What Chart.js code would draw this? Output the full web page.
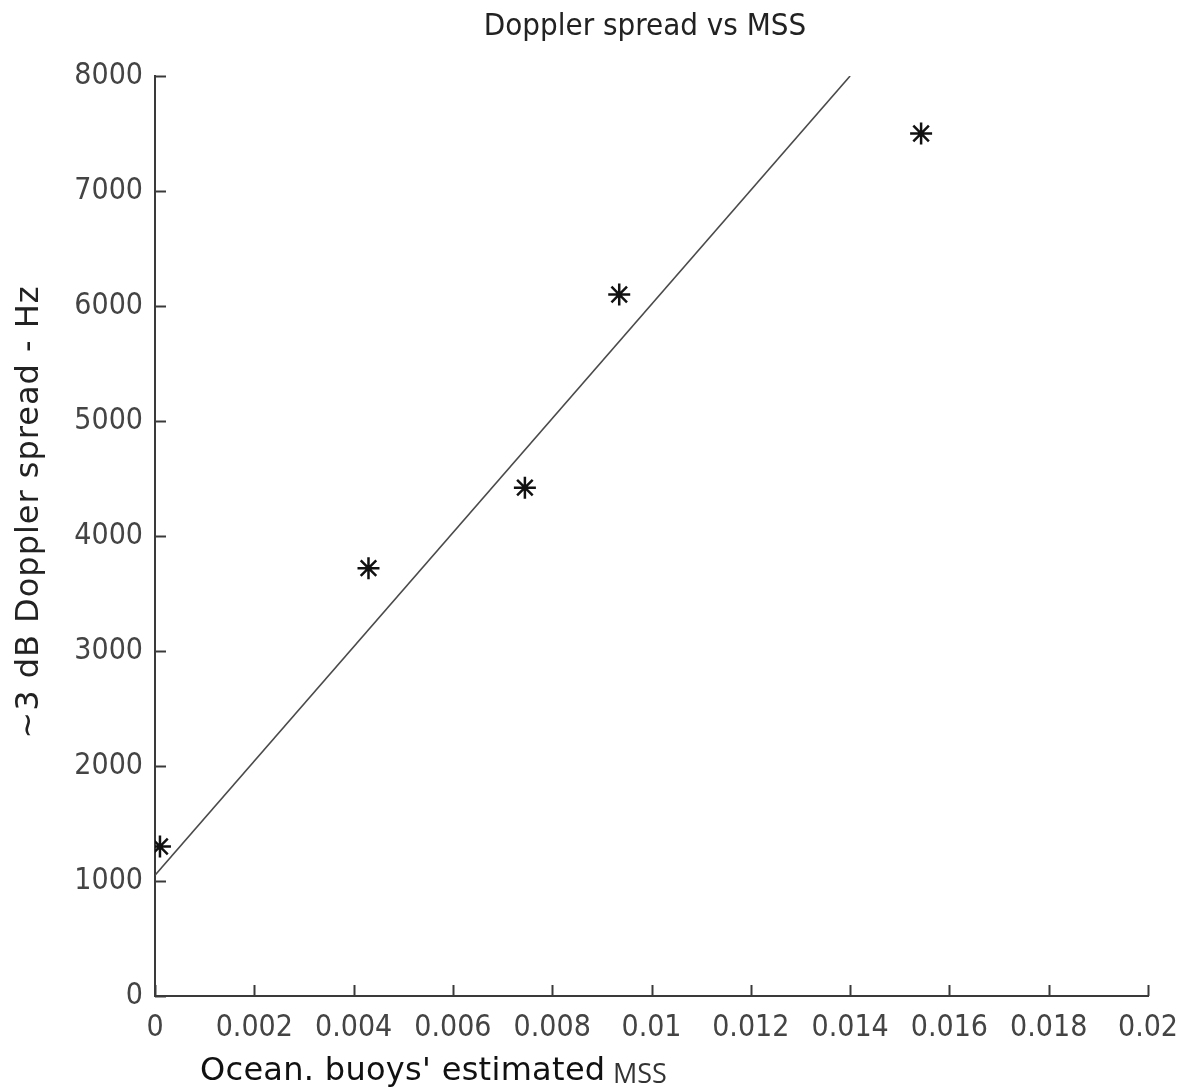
<!DOCTYPE html>
<html>
<head>
<meta charset="utf-8">
<title>Doppler spread vs MSS</title>
<script src="https://cdn.jsdelivr.net/npm/chart.js@4.4.1/dist/chart.umd.min.js"></script>
<style>
  html, body { margin: 0; padding: 0; background: #fff; }
  #wrap { width: 1179px; height: 1092px; }
</style>
</head>
<body>
<div id="wrap"><canvas id="dopplerChart" width="1179" height="1092"></canvas></div>
<script>
// Buoy measurements: mean square slope vs -3 dB Doppler spread
const mssValues = [0.0001, 0.0043, 0.00745, 0.00935, 0.01543];
const spreadValues = [1300, 3720, 4420, 6100, 7500];

// Linear fit end points
const fitMss = [0, 0.014];
const fitSpread = [1050, 8000];

const xTicks = [0, 0.002, 0.004, 0.006, 0.008, 0.01, 0.012, 0.014, 0.016, 0.018, 0.02];
const yTicks = [0, 1000, 2000, 3000, 4000, 5000, 6000, 7000, 8000];

const tickFont = "'DejaVu Sans Condensed', 'DejaVu Sans', sans-serif";
const inkColor = "#3a3a3a";

// Title, inward tick marks and the two axis titles
const axisDecor = {
  id: "axisDecor",
  afterDraw(chart) {
    const { ctx, chartArea, scales } = chart;
    ctx.save();
    ctx.strokeStyle = inkColor;
    ctx.lineWidth = 2;
    xTicks.forEach((v) => {
      const px = Math.round(scales.x.getPixelForValue(v)) + 0.5;
      ctx.beginPath();
      ctx.moveTo(px, chartArea.bottom);
      ctx.lineTo(px, chartArea.bottom - 11);
      ctx.stroke();
    });
    yTicks.forEach((v) => {
      const py = Math.round(scales.y.getPixelForValue(v)) + 0.5;
      ctx.beginPath();
      ctx.moveTo(chartArea.left, py);
      ctx.lineTo(chartArea.left + 11, py);
      ctx.stroke();
    });

    ctx.textBaseline = "middle";
    ctx.textAlign = "center";
    ctx.fillStyle = "#222";
    ctx.font = "condensed 31px 'DejaVu Sans', sans-serif";
    ctx.fillText("Doppler spread vs MSS", 645, 27);

    ctx.fillStyle = "#111";
    ctx.letterSpacing = "0.3px";
    ctx.font = "32px 'DejaVu Sans', sans-serif";
    ctx.textAlign = "left";
    const xTitle = "Ocean. buoys' estimated ";
    ctx.fillText(xTitle, chartArea.left + 45, 1072);
    const w = ctx.measureText(xTitle).width;
    ctx.letterSpacing = "0px";
    ctx.font = "27px 'Open Sans', sans-serif";
    ctx.fillStyle = "#333";
    ctx.fillText("MSS", chartArea.left + 42 + w, 1075);

    ctx.translate(30, 512);
    ctx.rotate(-Math.PI / 2);
    ctx.textAlign = "center";
    ctx.fillStyle = "#222";
    ctx.letterSpacing = "1px";
    ctx.font = "32px 'DejaVu Sans', sans-serif";
    ctx.fillText("~3 dB Doppler spread - Hz", 0, 0);
    ctx.restore();
  },
};

const ctx = document.getElementById("dopplerChart");

new Chart(ctx, {
  type: "scatter",
  data: {
    datasets: [
      {
        label: "Measured",
        data: mssValues.map((x, i) => ({ x: x, y: spreadValues[i] })),
        pointStyle: "star",
        pointRadius: 11,
        pointBorderWidth: 2.5,
        borderColor: "#111",
        backgroundColor: "#111",
        showLine: false,
      },
      {
        label: "Fit",
        data: fitMss.map((x, i) => ({ x: x, y: fitSpread[i] })),
        showLine: true,
        borderColor: "#4a4a4a",
        borderWidth: 1.6,
        pointRadius: 0,
        fill: false,
      },
    ],
  },
  options: {
    responsive: false,
    animation: false,
    layout: { padding: { left: 0, right: 31, top: 76, bottom: 0 } },
    plugins: {
      legend: { display: false },
      tooltip: { enabled: false },
    },
    scales: {
      x: {
        type: "linear",
        min: 0,
        max: 0.02,
        afterBuildTicks(scale) {
          scale.ticks = xTicks.map((v) => ({ value: v }));
        },
        afterFit(scale) {
          scale.height = 96;
          scale.paddingRight = 0;
          scale.paddingLeft = 0;
        },
        grid: { display: false, drawTicks: false },
        border: { display: true, color: inkColor, width: 2 },
        ticks: {
          color: "#444",
          padding: 14,
          maxRotation: 0,
          autoSkip: false,
          font: { family: tickFont, size: 30 },
          callback: (v) => String(parseFloat(v.toFixed(4))),
        },
      },
      y: {
        type: "linear",
        min: 0,
        max: 8000,
        afterBuildTicks(scale) {
          scale.ticks = yTicks.map((v) => ({ value: v }));
        },
        afterFit(scale) {
          scale.width = 155;
          scale.paddingTop = 0;
          scale.paddingBottom = 0;
        },
        grid: { display: false, drawTicks: false },
        border: { display: true, color: inkColor, width: 2 },
        ticks: {
          color: "#444",
          padding: 12,
          autoSkip: false,
          font: { family: tickFont, size: 30 },
          callback: (v) => String(v),
        },
      },
    },
  },
  plugins: [axisDecor],
});
</script>
</body>
</html>
